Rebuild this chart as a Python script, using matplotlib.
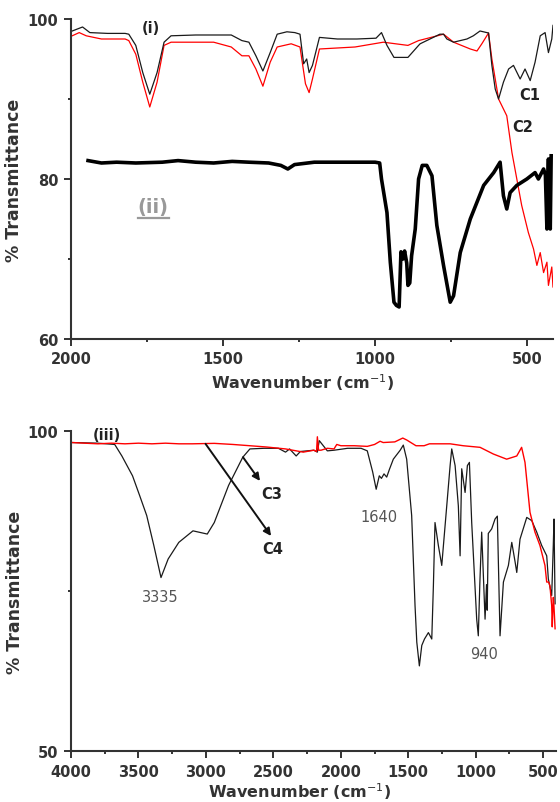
import numpy as np
import matplotlib
matplotlib.use("Agg")
import matplotlib.pyplot as plt
from matplotlib.lines import Line2D

# =========================
# data
# =========================

# (i) C1, black thin
c1_wn = [1996, 1962, 1938, 1880, 1822, 1810, 1787, 1764, 1741, 1717, 1694, 1671,
         1590, 1473, 1438, 1415, 1392, 1369, 1345, 1322, 1290, 1264, 1247, 1235,
         1225, 1217, 1206, 1183, 1124, 1060, 997, 979, 961, 938, 892, 857, 852,
         787, 775, 764, 742, 698, 677, 655, 627, 616, 605, 594, 578, 561, 545,
         523, 507, 490, 474, 457, 441, 430, 419, 415]
c1_t = [98.5, 99.0, 98.3, 98.2, 98.2, 98.1, 96.7, 93.3, 90.6, 93.3, 97.1, 97.9,
        98.0, 98.0, 97.3, 97.1, 95.4, 93.5, 95.8, 98.1, 98.4, 98.3, 98.1, 94.4,
        95.0, 93.3, 94.2, 97.7, 97.5, 97.5, 97.6, 98.3, 96.7, 95.2, 95.2, 96.7, 96.9,
        98.1, 98.1, 97.5, 97.1, 97.5, 97.9, 98.5, 98.25, 94.2, 91.25, 90.0, 92.1, 93.75, 94.2,
        92.5, 93.75, 92.3, 94.6, 97.9, 98.3, 95.8, 97.5, 99.2]

# (i) C2, red thin
c2_wn = [1996, 1973, 1950, 1900, 1822, 1810, 1787, 1764, 1741, 1717, 1694, 1671,
         1531, 1473, 1438, 1415, 1392, 1369, 1345, 1322, 1276, 1247, 1229, 1217,
         1206, 1183, 1066, 973, 892, 857, 775, 742, 687, 665, 649, 627, 616, 594,
         567, 550, 534, 518, 496, 479, 468, 457, 446, 435, 430, 419, 415]
c2_t = [97.9, 98.3, 97.9, 97.5, 97.5, 97.3, 95.6, 92.1, 89.0, 92.1, 96.7, 97.1,
        97.1, 96.5, 95.4, 95.4, 93.75, 91.6, 94.6, 96.5, 96.9, 96.5, 91.9, 90.8,
        92.5, 96.25, 96.5, 97.1, 96.7, 97.3, 98.1, 97.1, 96.25, 96.0, 96.9, 98.25, 95.0, 90.0,
        87.9, 83.3, 80.0, 76.7, 73.3, 71.25, 69.2, 70.8, 68.3, 69.6, 66.7, 69.0, 66.5]

# (ii) black thick
ii_wn = [1944, 1900, 1850, 1787, 1700, 1648, 1590, 1531, 1470, 1415, 1350, 1310,
         1287, 1265, 1200, 1100, 1000, 985, 979, 961, 950, 938, 930, 921, 915,
         908, 903, 896, 892, 886, 880, 868, 857, 845, 830, 813, 797, 775, 753,
         742, 720, 687, 643, 610, 589, 578, 567, 556, 534, 501, 474, 463, 446,
         440, 435, 432, 430, 427, 424, 421]
ii_t = [82.3, 82.0, 82.1, 82.0, 82.1, 82.3, 82.1, 82.0, 82.2, 82.1, 82.0, 81.7,
        81.25, 81.8, 82.1, 82.1, 82.1, 82.0, 80.0, 75.8, 69.6, 64.6, 64.2, 64.0, 70.9,
        70.0, 71.0, 69.5, 66.7, 67.0, 70.4, 73.75, 80.0, 81.7, 81.7, 80.4, 74.2, 69.2, 64.6,
        65.4, 70.8, 75.0, 79.2, 80.8, 82.1, 77.9, 76.25, 78.3, 79.2, 80.0, 80.8, 80.0, 81.25,
        80.5, 73.75, 80.0, 82.5, 76.0, 73.75, 82.9]

# (iii) black thin
iii_k_wn = [3992, 3800, 3676, 3623, 3544, 3491, 3439, 3386, 3333, 3280, 3201, 3096,
            2990, 2938, 2832, 2727, 2674, 2569, 2463, 2410, 2380, 2331, 2300, 2250,
            2200, 2174, 2160, 2100, 2050, 1950, 1850, 1804, 1764, 1738, 1715, 1699,
            1680, 1660, 1640, 1611, 1560, 1537, 1512, 1475, 1450, 1437, 1418, 1400,
            1380, 1351, 1326, 1314, 1302, 1277, 1252, 1215, 1190, 1178, 1153, 1129,
            1116, 1104, 1079, 1062, 1047, 1030, 993, 981, 970, 956, 931, 920, 915,
            907, 882, 857, 840, 820, 795, 758, 733, 708, 696, 672, 622, 585, 548,
            511, 474, 462, 437, 425, 420, 412]
iii_k_t = [98.2, 98.1, 97.9, 96.1, 93.0, 89.9, 86.8, 82.1, 77.1, 80.0, 82.6, 84.4,
           83.9, 85.7, 91.5, 95.9, 97.2, 97.3, 97.3, 96.7, 97.2, 96.1, 96.8, 96.9,
           97.0, 96.7, 98.5, 96.9, 97.0, 97.3, 97.3, 96.9, 93.6, 90.9, 93.0, 92.6,
           93.3, 92.8, 94.0, 95.6, 97.0, 97.8, 95.6, 86.8, 72.7, 67.0, 63.3, 66.5,
           67.5, 68.5, 67.5, 75.8, 85.7, 82.1, 79.0, 88.3, 94.6, 97.2, 94.6, 88.3,
           80.5, 94.1, 90.4, 94.6, 95.1, 85.7, 70.6, 68.0, 76.0, 84.2, 70.6, 76.0, 72.0,
           84.0, 84.7, 86.25, 86.7, 68.0, 76.4, 79.0, 82.6, 79.5, 77.9, 83.1, 86.5, 86.0, 84.2,
           82.1, 80.5, 76.9, 74.3, 82.3, 86.25, 73.0]

# (iii) red thin
iii_r_wn = [3992, 3900, 3800, 3700, 3600, 3500, 3400, 3300, 3200, 3100, 2938, 2800,
            2674, 2550, 2410, 2330, 2279, 2200, 2180, 2174, 2165, 2147, 2100, 2050,
            2042, 2030, 2000, 1900, 1804, 1750, 1709, 1686, 1600, 1541, 1512, 1443,
            1383, 1343, 1224, 1190, 1093, 968, 869, 771, 696, 660, 635, 598, 561,
            524, 487, 474, 460, 450, 437, 433, 425, 420, 412]
iii_r_t = [98.2, 98.1, 98.0, 98.1, 98.0, 98.1, 98.0, 98.1, 98.0, 98.0, 98.07, 97.9,
           97.7, 97.5, 97.2, 96.9, 96.7, 97.0, 96.8, 99.1, 97.0, 97.0, 97.3, 97.2,
           97.5, 97.9, 97.7, 97.7, 97.6, 97.9, 98.4, 98.2, 98.3, 98.9, 98.6, 97.7,
           97.7, 98.0, 98.0, 98.0, 97.7, 97.45, 96.4, 95.6, 96.1, 97.45, 95.1, 87.3, 84.2,
           82.1, 79.0, 76.4, 76.4, 75.8, 72.7, 69.4, 74.0, 72.5, 69.1]

top_xticks = [2000, 1500, 1000, 500]
top_yticks = [60, 80, 100]
bot_xticks = [4000, 3500, 3000, 2500, 2000, 1500, 1000, 500]
bot_yticks = [50, 100]

# label texts and anchors (wavenumber, %T)
top_labels = [("(i)", 1737, 98.9), ("C1", 493, 90.6), ("C2", 515, 86.6)]
bot_labels = [("(iii)", 3733, 99.4), ("C3", 2510, 90.2), ("C4", 2503, 81.6)]
peak_labels = [("3335", 3340, 74.1), ("1640", 1717, 86.6), ("940", 935, 65.2)]
arrows = [((2725, 95.9), (2599, 92.2)), ((3003, 98.0), (2517, 83.6))]

DARK = "#333333"
plt.rcParams["font.family"] = "DejaVu Sans"


def style_axes(ax, xticks, yticks, xminor, yminor):
    for s in ["top", "right"]:
        ax.spines[s].set_visible(False)
    for s in ["left", "bottom"]:
        ax.spines[s].set_linewidth(1.5)
        ax.spines[s].set_color(DARK)
    ax.set_xticks(xticks)
    ax.set_yticks(yticks)
    ax.set_xticks(xminor, minor=True)
    ax.set_yticks(yminor, minor=True)
    ax.tick_params(which="major", direction="out", length=5, width=1.4,
                   color=DARK, labelsize=10.5, labelcolor=DARK, pad=4)
    ax.tick_params(which="minor", direction="out", length=2.5, width=1.4, color=DARK)
    for lab in ax.get_xticklabels() + ax.get_yticklabels():
        lab.set_fontweight("bold")


fig = plt.figure(figsize=(5.6, 8.03), dpi=100)

# =========================
# top panel
# =========================
ax1 = fig.add_axes([0.1268, 0.5766, 0.8607, 0.3985])
ax1.plot(c2_wn, c2_t, color="#ff0000", lw=0.9)
ax1.plot(c1_wn, c1_t, color="#1a1a1a", lw=0.9)
ax1.plot(ii_wn, ii_t, color="#000000", lw=2.6, solid_joinstyle="round")
ax1.set_xlim(2000, 415)
ax1.set_ylim(60, 100)
style_axes(ax1, top_xticks, top_yticks, [1750, 1250, 750], [70, 90])
ax1.set_xlabel("Wavenumber (cm$^{-1}$)", fontsize=11.5, fontweight="bold", color=DARK)
ax1.set_ylabel("% Transmittance", fontsize=12.5, fontweight="bold", color=DARK)
ax1.xaxis.set_label_coords(0.48, -0.1)
ax1.yaxis.set_label_coords(-0.1, 0.5)

for txt, x, y in top_labels:
    ax1.text(x, y, txt, ha="center", va="center", fontsize=10.5,
             fontweight="bold", color="#222222")

t_ii = ax1.text(1730, 76.6, "(ii)", ha="center", va="center", fontsize=14,
                fontweight="bold", color="#999999")

# =========================
# bottom panel
# =========================
ax2 = fig.add_axes([0.1268, 0.0635, 0.8661, 0.3985])
ax2.plot(iii_k_wn, iii_k_t, color="#1a1a1a", lw=0.9)
ax2.plot(iii_r_wn, iii_r_t, color="#ff0000", lw=1.0)
ax2.set_xlim(4000, 405)
ax2.set_ylim(50, 100)
style_axes(ax2, bot_xticks, bot_yticks,
           [3750, 3250, 2750, 2250, 1750, 1250, 750], [75])
ax2.set_xlabel("Wavenumber (cm$^{-1}$)", fontsize=11.5, fontweight="bold", color=DARK)
ax2.set_ylabel("% Transmittance", fontsize=12.5, fontweight="bold", color=DARK)
ax2.xaxis.set_label_coords(0.471, -0.093)
ax2.yaxis.set_label_coords(-0.097, 0.5)

for txt, x, y in bot_labels:
    ax2.text(x, y, txt, ha="center", va="center", fontsize=10.5,
             fontweight="bold", color="#222222")
for txt, x, y in peak_labels:
    ax2.text(x, y, txt, ha="center", va="center", fontsize=10.5, color="#555555")
for start, end in arrows:
    ax2.annotate("", xy=end, xytext=start,
                 arrowprops=dict(arrowstyle="-|>", color="#111111", lw=1.4,
                                 mutation_scale=11, shrinkA=0, shrinkB=0))

# underline under (ii)
fig.canvas.draw()
bb = t_ii.get_window_extent().transformed(fig.transFigure.inverted())
fig.add_artist(Line2D([bb.x0, bb.x1], [bb.y0 - 0.003, bb.y0 - 0.003],
                      transform=fig.transFigure, color="#999999", lw=1.6))

fig.savefig("out.png", dpi=100)
